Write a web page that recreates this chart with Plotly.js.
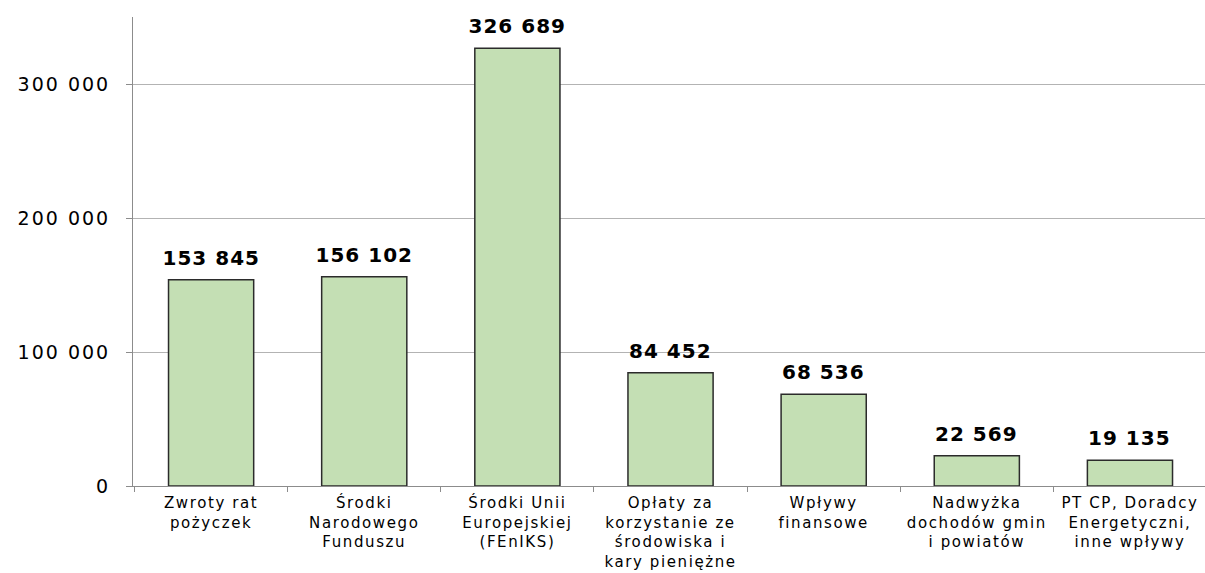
<!DOCTYPE html>
<html>
<head>
<meta charset="utf-8">
<script src="https://cdn.plot.ly/plotly-3.0.1.min.js"></script>
<style>
html,body{margin:0;padding:0;background:#fff;}
#chart .xtick text{letter-spacing:1.6px;}
#chart .ytick text{letter-spacing:2px;}
#chart .annotation-text{letter-spacing:1px;}
</style>
</head>
<body>
<div id="chart" style="width:1205px;height:573px;"></div>
<script>
const categories = [
  "Zwroty rat<br>pożyczek",
  "Środki<br>Narodowego<br>Funduszu",
  "Środki Unii<br>Europejskiej<br>(FEnIKS)",
  "Opłaty za<br>korzystanie ze<br>środowiska i<br>kary pieniężne",
  "Wpływy<br>finansowe",
  "Nadwyżka<br>dochodów gmin<br>i powiatów",
  "PT CP, Doradcy<br>Energetyczni,<br>inne wpływy"
];
const values = [153845, 156102, 326689, 84452, 68536, 22569, 19135];
const valueLabels = ["153 845", "156 102", "326 689", "84 452", "68 536", "22 569", "19 135"];
const yTickVals = [0, 100000, 200000, 300000];

const trace = {
  type: 'bar',
  x: categories,
  y: values,
  marker: {color: '#c4dfb4', line: {color: '#2b2b2b', width: 1.5}},
  hoverinfo: 'none'
};

const annotations = categories.map((c, i) => ({
  x: c,
  y: values[i],
  xref: 'x',
  yref: 'y',
  text: '<b>' + valueLabels[i] + '</b>',
  showarrow: false,
  yanchor: 'bottom',
  yshift: 8,
  font: {family: 'DejaVu Sans', size: 20, color: '#000'}
}));

const layout = {
  width: 1205,
  height: 573,
  margin: {l: 133, r: 0, t: 17, b: 87},
  separators: ', ',
  paper_bgcolor: '#fff',
  plot_bgcolor: '#fff',
  showlegend: false,
  bargap: 0.444,
  annotations: annotations,
  xaxis: {
    type: 'category',
    range: [-0.51, 6.49],
    showline: true,
    linecolor: '#8c8c8c',
    linewidth: 1,
    ticks: 'outside',
    ticklen: 5,
    tickcolor: '#8c8c8c',
    tickson: 'boundaries',
    showgrid: false,
    tickangle: 0,
    ticklabelstandoff: 3,
    tickfont: {family: 'DejaVu Sans', size: 15, color: '#000'},
    automargin: false
  },
  yaxis: {
    range: [0, 350000],
    tickvals: yTickVals,
    tickformat: ',',
    showline: true,
    linecolor: '#8c8c8c',
    linewidth: 1,
    ticks: 'outside',
    ticklen: 6,
    tickcolor: '#8c8c8c',
    showgrid: true,
    gridcolor: '#b3b3b3',
    gridwidth: 1,
    zeroline: false,
    ticklabelstandoff: 12,
    tickfont: {family: 'DejaVu Sans', size: 19, color: '#000'},
    automargin: false
  }
};

Plotly.newPlot('chart', [trace], layout, {displayModeBar: false, staticPlot: true});
</script>
</body>
</html>
